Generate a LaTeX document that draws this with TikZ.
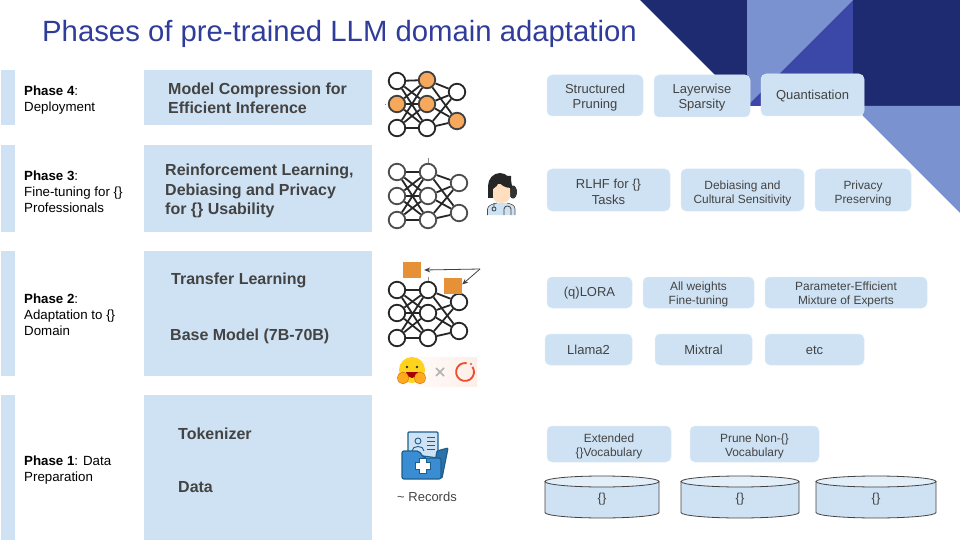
\documentclass[tikz,border=0pt]{standalone}
\usepackage{fontspec}
\setmainfont{Liberation Sans}
\usetikzlibrary{backgrounds,arrows.meta}
\definecolor{boxblue}{HTML}{CFE2F3}
\definecolor{txtgrey}{HTML}{434343}
\definecolor{navy}{HTML}{1F2B70}
\definecolor{midblue}{HTML}{3B48A8}
\definecolor{lightblue}{HTML}{7A92D0}
\definecolor{titleblue}{HTML}{2F3C9A}
\definecolor{sqorange}{HTML}{E69138}
\definecolor{nodeorange}{HTML}{F6A85C}
\definecolor{folderdark}{HTML}{1B5E8F}
\definecolor{folderblue}{HTML}{3A8DD3}
\definecolor{palepink}{HTML}{FDEEE8}
\definecolor{hugyellow}{HTML}{FFD21E}
\definecolor{hughand}{HTML}{FFA91F}
\definecolor{torch}{HTML}{EE4C2C}
\tikzset{
  band/.style={fill=boxblue,draw=none,inner sep=0pt},
  phasetxt/.style={anchor=west,align=left,inner sep=0pt,text=black,font=\fontsize{13.3}{16}\selectfont},
  maintxt/.style={anchor=west,align=left,inner sep=0pt,text=txtgrey,font=\fontsize{16}{19.3}\selectfont\bfseries},
  pillbox/.style={fill=boxblue,draw=boxblue!70,line width=0.5pt,rounded corners=5pt,inner sep=0pt},
  pilltxt/.style={inner sep=0pt,align=center,text=txtgrey,font=\fontsize{13}{15.5}\selectfont},
  pillsmall/.style={pilltxt,font=\fontsize{11.9}{14}\selectfont},
  nn/.style={circle,draw=#1,fill=white,line width=1.8pt,minimum size=16.5pt,inner sep=0pt},
  nn/.default={black!85},
  nnorange/.style={nn=black!75,fill=nodeorange},
  nnedge/.style={draw=black!85,line width=1.8pt},
  stub/.style={draw=black!45,line width=0.5pt},
  cyl/.style={fill=boxblue,draw=txtgrey,line width=0.8pt},
  cyltop/.style={fill=boxblue!60!white,draw=txtgrey,line width=0.8pt},
  cyltxt/.style={inner sep=0pt,text=txtgrey,font=\fontsize{13}{16}\selectfont},
  orangesq/.style={fill=sqorange,draw=none,inner sep=0pt,minimum width=18pt,minimum height=16pt},
  ptr/.style={draw=black!75,line width=0.8pt,-{Stealth[length=6pt,width=5pt]}}
}
\newcommand{\netedges}[1]{%
  \begin{scope}[on background layer]
  \foreach \a in {1,2,3}{\foreach \b in {1,2,3}{\draw[nnedge] (#1a\a)--(#1b\b);}}
  \foreach \b in {1,2,3}{\foreach \c in {1,2}{\draw[nnedge] (#1b\b)--(#1c\c);}}
  \end{scope}}
% style, name, x, y, width, height, text drop, text
\newcommand{\pillnode}[8]{%
  \node[pillbox,minimum width=#5pt,minimum height=#6pt] (#2) at (#3,#4) {};
  \node[#1] (#2t) at ([yshift=-#7pt]#2.center) {#8};}
\begin{document}
\begin{tikzpicture}[x=1pt,y=-1pt]
\useasboundingbox (0,0) rectangle (960,540);
% corner decoration
\fill[navy] (640,0)--(747,0)--(747,107)--cycle;
\fill[lightblue] (747,0)--(853,0)--(747,106)--cycle;
\fill[midblue] (853,0)--(853,106)--(747,106)--cycle;
\fill[navy] (853,0) rectangle (960,106);
\fill[lightblue] (853,106)--(960,106)--(960,213)--cycle;
% title
\node[anchor=west,inner sep=0pt,text=titleblue,font=\fontsize{29.3}{32}\selectfont] (title) at (42,33.5) {Phases of pre-trained LLM domain adaptation};
% left strips and main bands
\node[band,minimum width=14pt,minimum height=55pt] (s4) at (8,97.5) {};
\node[band,minimum width=14pt,minimum height=87pt] (s3) at (8,188.5) {};
\node[band,minimum width=14pt,minimum height=125pt] (s2) at (8,313.5) {};
\node[band,minimum width=14pt,minimum height=145pt] (s1) at (8,467.5) {};
\node[band,minimum width=228pt,minimum height=55pt] (m4) at (258,97.5) {};
\node[band,minimum width=228pt,minimum height=87pt] (m3) at (258,188.5) {};
\node[band,minimum width=228pt,minimum height=125pt] (m2) at (258,313.5) {};
\node[band,minimum width=228pt,minimum height=145pt] (m1) at (258,467.5) {};
% phase labels
\node[phasetxt] (p4) at (24,100) {\textbf{Phase 4}:\\Deployment};
\node[phasetxt] (p3) at (24,192) {\textbf{Phase 3}:\\Fine-tuning for \{\}\\Professionals};
\node[phasetxt] (p2) at (24,315) {\textbf{Phase 2}:\\Adaptation to \{\}\\Domain};
\node[phasetxt] (p1) at (24,470) {\textbf{Phase 1}: Data\\Preparation};
% main labels
\node[maintxt] (t4) at (168,98.5) {Model Compression for\\Efficient Inference};
\node[maintxt] (t3) at (165,191) {Reinforcement Learning,\\Debiasing and Privacy\\for \{\} Usability};
\node[maintxt] (t2a) at (171,280.5) {Transfer Learning};
\node[maintxt] (t2b) at (170,336.5) {Base Model (7B-70B)};
\node[maintxt] (t1a) at (178,434) {Tokenizer};
\node[maintxt] (t1b) at (178,487) {Data};
% pills row 4
\pillnode{pilltxt}{r4a}{595}{95.5}{96}{41}{2}{Structured\\Pruning}
\pillnode{pilltxt}{r4b}{702}{96}{96}{42}{1.5}{Layerwise\\Sparsity}
\pillnode{pilltxt}{r4c}{812.5}{95}{103}{42}{1}{Quantisation}
% pills row 3
\pillnode{pilltxt}{r3a}{608.5}{190}{123}{42}{2}{RLHF for \{\}\\Tasks}
\pillnode{pillsmall}{r3b}{742.5}{190}{123}{42}{3}{Debiasing and\\Cultural Sensitivity}
\pillnode{pillsmall}{r3c}{863}{190}{96}{42}{3}{Privacy\\Preserving}
% pills row 2
\pillnode{pilltxt}{r2a}{589.5}{292.5}{85}{31}{1}{(q)LORA}
\pillnode{pillsmall}{r2b}{698.5}{292.5}{111}{31}{1.5}{All weights\\Fine-tuning}
\pillnode{pillsmall}{r2c}{846}{292.5}{162}{31}{2}{Parameter-Efficient\\Mixture of Experts}
\pillnode{pilltxt}{r2d}{588.5}{349.5}{87}{31}{0.5}{Llama2}
\pillnode{pilltxt}{r2e}{703.5}{349.5}{97}{31}{0.5}{Mixtral}
\pillnode{pilltxt}{r2f}{814.5}{349.5}{99}{31}{0.5}{etc}
% pills row 1
\pillnode{pillsmall}{r1a}{609}{444}{124}{36}{2}{Extended\\\{\}Vocabulary}
\pillnode{pillsmall}{r1b}{754.5}{444}{129}{36}{2}{Prune Non-\{\}\\Vocabulary}
% cylinders
\foreach \l/\r/\n in {545/659/c1,681/799/c2,816/936/c3}{
  \pgfmathsetmacro{\mx}{(\l+\r)/2}
  \pgfmathsetmacro{\rx}{(\r-\l)/2}
  \draw[cyl] (\l,481.5) -- (\l,512.5) arc[start angle=180,end angle=0,x radius=\rx,y radius=5.5] -- (\r,481.5);
  \draw[cyltop] (\mx,481.5) ellipse[x radius=\rx,y radius=5.5];
  \node[cyltxt] (\n) at (\mx,499.5) {\{\}};
}
% network 1
\foreach \i/\y in {1/81,3/128}{\node[nn] (na\i) at (397,\y) {};}
\node[nnorange] (na2) at (397,104) {};
\node[nnorange] (nb1) at (427,80) {};
\node[nnorange] (nb2) at (427,104) {};
\node[nn] (nb3) at (427,128) {};
\node[nn] (nc1) at (457,92) {};
\node[nnorange] (nc2) at (457,121) {};
\netedges{n}
\draw[stub] (384.5,104) -- (386,104);
% network 2
\foreach \i/\y in {1/172,2/196,3/220}{\node[nn=black!70] (oa\i) at (397,\y) {}; \node[nn=black!70] (ob\i) at (428,\y) {};}
\node[nn=black!70] (oc1) at (459,183) {};
\node[nn=black!70] (oc2) at (459,213) {};
\netedges{o}
\draw[stub] (ob1.north) -- ++(0,-5);
% network 3
\foreach \i/\y in {1/290,2/313,3/338}{\node[nn] (pa\i) at (397,\y) {}; \node[nn] (pb\i) at (428,\y) {};}
\node[nn] (pc1) at (459,302) {};
\node[nn] (pc2) at (459,331) {};
\netedges{p}
\draw[stub] (pb1.north) -- ++(0,-4);
% orange squares and pointers
\node[orangesq] (q1) at (412,270) {};
\node[orangesq] (q2) at (453,285.5) {};
\coordinate (ptrstart) at (480,269);
\draw[ptr] (ptrstart) -- ([xshift=3pt]q1.east);
\draw[ptr] (ptrstart) -- ([yshift=1pt]q2.east);
% doctor
\fill[black!80] (513,192) ellipse[x radius=4,y radius=6.5];
\fill[boxblue] (487.5,215) -- (487.5,209) .. controls (488,205) and (493,204) .. (497,203) -- (507,203) .. controls (511,204) and (515,205) .. (515,209) -- (515,215) -- cycle;
\draw[black!70,line width=0.6pt] (487.5,215) -- (487.5,209) .. controls (488,205) and (493,204) .. (497,203) (507,203) .. controls (511,204) and (515,205) .. (515,209) -- (515,215);
\fill[black!85] (500,186) ellipse[x radius=12,y radius=13];
\fill[black!85] (488,186) rectangle (494,198);
\fill[orange!25!white] (493,184) -- (510,184) -- (510,197) .. controls (509,205) and (494,205) .. (493,197) -- cycle;
\fill[black!85] (493,176) -- (511,176) -- (511,188) .. controls (505,188) and (501,185) .. (499,182) .. controls (498,185) and (496,187) .. (493,189) -- cycle;
\draw[black!75,line width=0.8pt] (494,203) -- (494,207) (494,209) circle[radius=2];
\draw[black!75,line width=0.8pt] (504,215) -- (504,209) .. controls (504,205) and (511,205) .. (511,209) -- (511,215);
% huggingface x pytorch
\shade[left color=white,right color=palepink] (395,357) rectangle (477,386);
\fill[hugyellow] (412,370) circle[radius=13];
\fill[black!80] (407,367) circle[radius=1.4] (417,367) circle[radius=1.4];
\fill[red!65!black] (406,372) .. controls (408,380) and (416,380) .. (418,372) -- cycle;
\fill[hughand,draw=orange!70!black,line width=0.3pt] (403,378) ellipse[x radius=5.5,y radius=6];
\fill[hughand,draw=orange!70!black,line width=0.3pt] (420,378) ellipse[x radius=5.5,y radius=6];
\draw[black!30,line width=1.6pt] (436,368) -- (444,376) (444,368) -- (436,376);
\draw[torch,line width=1.8pt] (466.6,363.1) arc[start angle=-80,end angle=-395,radius=9];
\fill[torch] (471,364) circle[radius=1.2];
% folder icon
\draw[folderdark,fill=boxblue,line width=1.2pt,rounded corners=1pt] (408,454) -- (408,432) -- (438,432) -- (438,458) -- cycle;
\draw[folderdark,line width=0.9pt] (418,441) circle[radius=3] (412,451) .. controls (412,445) and (424,445) .. (424,451);
\draw[folderdark,line width=0.9pt] (427,437) -- (435,437) (427,441) -- (435,441) (427,445) -- (435,445) (427,449) -- (435,449);
\draw[folderdark,fill=folderblue!80!black,line width=1.2pt,rounded corners=1pt] (437,451) -- (448,448) -- (442,478) -- (432,478) -- cycle;
\draw[folderdark,fill=folderblue,line width=1.2pt,rounded corners=2pt] (402,451) -- (419,451) -- (424,458) -- (441,458) -- (441,479) -- (402,479) -- cycle;
\draw[folderdark,fill=white,line width=1pt] (419,458) -- (426,458) -- (426,462) -- (430,462) -- (430,469) -- (426,469) -- (426,473) -- (419,473) -- (419,469) -- (415,469) -- (415,462) -- (419,462) -- cycle;
\node[inner sep=0pt,text=txtgrey,font=\fontsize{13}{16}\selectfont] (rec) at (427,496.5) {\textasciitilde{} Records};
\end{tikzpicture}
\end{document}
